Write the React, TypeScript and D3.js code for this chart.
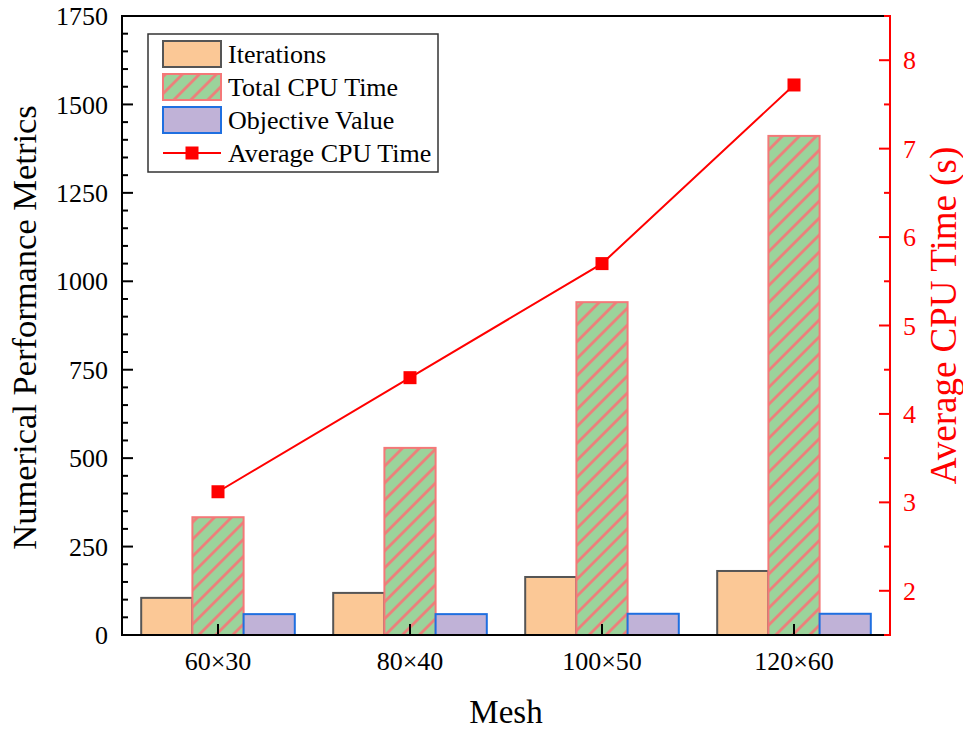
import React from 'react'
import * as d3 from 'd3'

// values
const categories = ['60×30', '80×40', '100×50', '120×60']
const iterations = [105, 119, 164, 181]
const totalCpuTime = [333, 529, 941, 1411]
const objectiveValue = [59, 59, 60, 60]
const avgCpuTime = [3.12, 4.41, 5.7, 7.72]
const leftTicks = [0, 250, 500, 750, 1000, 1250, 1500, 1750]
const rightTicks = [2, 3, 4, 5, 6, 7, 8]

const W = 963
const H = 734
const margin = { top: 16, right: 73, bottom: 99, left: 122 }
const FONT = '"Liberation Serif", "Times New Roman", serif'

const series = [
  { key: 'Iterations', values: iterations, fill: '#FBC896', stroke: '#555555', hatch: false },
  { key: 'Total CPU Time', values: totalCpuTime, fill: '#9BD39B', stroke: '#F47878', hatch: true },
  { key: 'Objective Value', values: objectiveValue, fill: '#C0B2D7', stroke: '#1F6FE0', hatch: false },
]

const App = () => {
  const x0 = margin.left
  const x1 = W - margin.right
  const y0 = H - margin.bottom
  const y1 = margin.top

  const xBand = d3.scaleBand().domain(categories).range([x0, x1]).padding(0)
  const groupW = xBand.bandwidth() * 0.8
  const xSub = d3
    .scaleBand()
    .domain(series.map((s) => s.key))
    .range([0, groupW])
    .padding(0)
  const yLeft = d3.scaleLinear().domain([0, 1750]).range([y0, y1])
  const yRight = d3.scaleLinear().domain([1.5, 8.5]).range([y0, y1])
  const cx = (c) => xBand(c) + xBand.bandwidth() / 2

  const leftMinor = d3.range(0, 1751, 50).filter((v) => v % 250 !== 0)
  const rightMinor = d3.range(1.5, 8.51, 1)

  const line = d3
    .line()
    .x((d, i) => cx(categories[i]))
    .y((d) => yRight(d))

  const legendX = 148
  const legendY = 34
  const rowH = 33
  const swX = 163
  const swW = 58
  const swH = 26

  return (
    <svg width={W} height={H} style={{ position: 'absolute', left: 0, top: 0, background: '#fff' }} fontFamily={FONT}>
      <defs>
        <pattern id="hatch" patternUnits="userSpaceOnUse" width={12} height={12} patternTransform="rotate(45)">
          <rect width={12} height={12} fill="#9BD39B" />
          <line x1={1.5} y1={0} x2={1.5} y2={12} stroke="#F47878" strokeWidth={2.6} />
        </pattern>
      </defs>

      {/* bars */}
      {series.map((s) => (
        <g key={s.key}>
          {categories.map((c, i) => {
            const bx = cx(c) - groupW / 2 + xSub(s.key)
            return (
              <rect
                key={c}
                x={bx}
                y={yLeft(s.values[i])}
                width={xSub.bandwidth()}
                height={y0 - yLeft(s.values[i])}
                fill={s.hatch ? 'url(#hatch)' : s.fill}
                stroke={s.stroke}
                strokeWidth={2}
              />
            )
          })}
        </g>
      ))}

      {/* average cpu time line */}
      <path d={line(avgCpuTime)} fill="none" stroke="#FF0000" strokeWidth={2} />
      {avgCpuTime.map((v, i) => (
        <rect key={i} x={cx(categories[i]) - 6.5} y={yRight(v) - 6.5} width={13} height={13} fill="#FF0000" />
      ))}

      {/* frame */}
      <line x1={x0} y1={y1} x2={x1} y2={y1} stroke="#000" strokeWidth={2} />
      <line x1={x0} y1={y0} x2={x1} y2={y0} stroke="#000" strokeWidth={2} />
      <line x1={x0} y1={y1 - 1} x2={x0} y2={y0 + 1} stroke="#000" strokeWidth={2} />
      <line x1={x1} y1={y1 - 1} x2={x1} y2={y0 + 1} stroke="#FF0000" strokeWidth={2} />

      {/* left axis */}
      {leftTicks.map((t) => (
        <g key={t}>
          <line x1={x0} x2={x0 + 11} y1={yLeft(t)} y2={yLeft(t)} stroke="#000" strokeWidth={2} />
          <text x={x0 - 14} y={yLeft(t)} dy="0.35em" textAnchor="end" fontSize={26} fill="#000">
            {t}
          </text>
        </g>
      ))}
      {leftMinor.map((t) => (
        <line key={t} x1={x0} x2={x0 + 6} y1={yLeft(t)} y2={yLeft(t)} stroke="#000" strokeWidth={2} />
      ))}

      {/* right axis */}
      {rightTicks.map((t) => (
        <g key={t}>
          <line x1={x1} x2={x1 - 11} y1={yRight(t)} y2={yRight(t)} stroke="#FF0000" strokeWidth={2} />
          <text x={x1 + 13} y={yRight(t)} dy="0.35em" textAnchor="start" fontSize={26} fill="#FF0000">
            {t}
          </text>
        </g>
      ))}
      {rightMinor.map((t) => (
        <line key={t} x1={x1} x2={x1 - 6} y1={yRight(t)} y2={yRight(t)} stroke="#FF0000" strokeWidth={2} />
      ))}

      {/* bottom axis */}
      {categories.map((c) => (
        <g key={c}>
          <line x1={cx(c)} x2={cx(c)} y1={y0} y2={y0 - 11} stroke="#000" strokeWidth={2} />
          <text x={cx(c)} y={670} textAnchor="middle" fontSize={26} fill="#000">
            {c}
          </text>
        </g>
      ))}

      {/* axis titles */}
      <text x={(x0 + x1) / 2} y={723} textAnchor="middle" fontSize={33} fill="#000">
        Mesh
      </text>
      <text transform={`translate(36, ${(y0 + y1) / 2 + 2}) rotate(-90)`} textAnchor="middle" fontSize={34.5} fill="#000">
        Numerical Performance Metrics
      </text>
      <text transform={`translate(956, ${(y0 + y1) / 2 - 10}) rotate(-90)`} textAnchor="middle" fontSize={37} fill="#FF0000">
        Average CPU Time (s)
      </text>

      {/* legend */}
      <rect x={legendX} y={legendY} width={290} height={138} fill="#fff" stroke="#333" strokeWidth={1.5} />
      {series.map((s, i) => (
        <g key={s.key}>
          <rect
            x={swX}
            y={legendY + 7 + i * rowH}
            width={swW}
            height={swH}
            fill={s.hatch ? 'url(#hatch)' : s.fill}
            stroke={s.stroke}
            strokeWidth={2}
          />
          <text x={228} y={legendY + 7 + i * rowH + swH / 2} dy="0.35em" fontSize={26} fill="#000">
            {s.key}
          </text>
        </g>
      ))}
      <line x1={swX} x2={swX + swW} y1={153} y2={153} stroke="#FF0000" strokeWidth={2} />
      <rect x={swX + swW / 2 - 6.5} y={153 - 6.5} width={13} height={13} fill="#FF0000" />
      <text x={228} y={153} dy="0.35em" fontSize={26} fill="#000">
        Average CPU Time
      </text>
    </svg>
  )
}

export default App
